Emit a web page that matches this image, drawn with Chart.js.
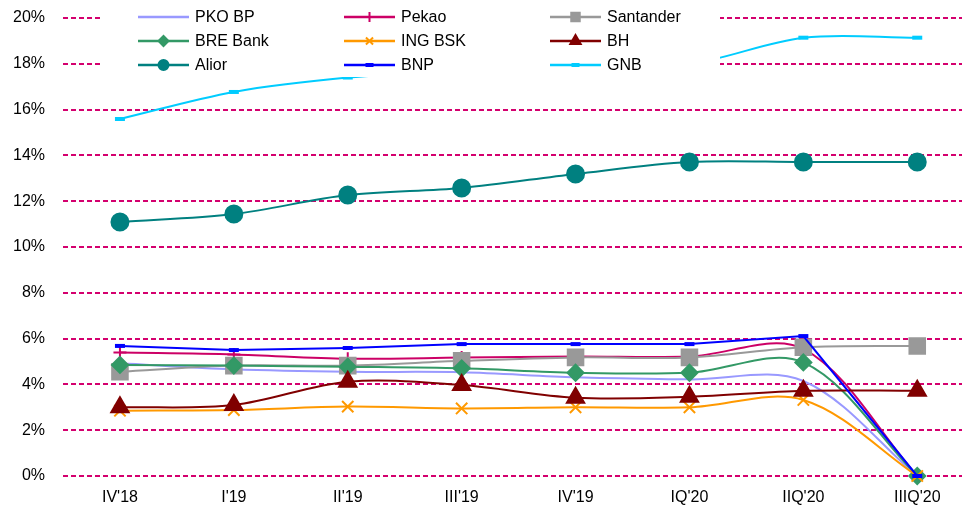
<!DOCTYPE html>
<html>
<head>
<meta charset="utf-8">
<script src="https://cdn.jsdelivr.net/npm/chart.js@4.4.0/dist/chart.umd.min.js"></script>
<style>
  html, body { margin: 0; padding: 0; background: #fff; overflow: hidden; }
</style>
</head>
<body>
<canvas id="myChart" width="962" height="508"></canvas>
<script>
// quarters on the x axis
var quarters = ["IV'18", "I'19", "II'19", "III'19", "IV'19", "IQ'20", "IIQ'20", "IIIQ'20"];

// values in %
var pkoBP     = [4.92, 4.66, 4.55, 4.53, 4.31, 4.22, 4.15, 0];
var pekao     = [5.39, 5.31, 5.12, 5.17, 5.22, 5.22, 5.55, 0];
var santander = [4.55, 4.82, 4.82, 5.03, 5.18, 5.18, 5.62, 5.68];
var breBank   = [4.85, 4.82, 4.77, 4.70, 4.51, 4.51, 4.96, 0];
var ingBSK    = [2.85, 2.88, 3.03, 2.95, 3.00, 3.00, 3.32, 0];
var bh        = [3.00, 3.10, 4.12, 3.97, 3.42, 3.46, 3.72, 3.72];
var alior     = [11.09, 11.44, 12.27, 12.58, 13.19, 13.71, 13.71, 13.71];
var bnp       = [5.68, 5.50, 5.59, 5.76, 5.76, 5.76, 6.11, 0];
var gnb       = [15.59, 16.77, 17.40, 17.70, 17.90, 18.00, 19.14, 19.14];

var tickFont = { family: "'Liberation Sans', Arial, sans-serif", size: 16, weight: "normal" };
var catWidth = 113.9; // px per quarter, the plot is cut off on the right in the original

// one line series, later series get drawn on top (like the original)
function series(label, values, color, style, radius, idx, extra) {
    var ds = {
        label: label,
        data: values.map(function(v, i) { return { x: i, y: v }; }),
        borderColor: color,
        backgroundColor: color,
        borderWidth: 2,
        pointStyle: style,
        pointRadius: radius,
        pointHoverRadius: radius,
        pointBackgroundColor: color,
        pointBorderColor: color,
        pointBorderWidth: 2,
        tension: 0.33,
        clip: false,
        order: 9 - idx
    };
    for (var k in extra) ds[k] = extra[k];
    return ds;
}

var datasets = [
    series("PKO BP", pkoBP, "#9999FF", false, 0, 0),
    series("Pekao", pekao, "#CC0066", "cross", 6.5, 1),
    series("Santander", santander, "#999999", "rect", 11, 2),
    series("BRE Bank", breBank, "#339966", "rectRot", 8, 3),
    series("ING BSK", ingBSK, "#FF9900", "crossRot", 8, 4),
    series("BH", bh, "#800000", "triangle", 10, 5),
    series("Alior", alior, "#008080", "circle", 8.5, 6),
    series("BNP", bnp, "#0000FF", "line", 5, 7, { pointBorderWidth: 4, tension: 0 }),
    series("GNB", gnb, "#00CCFF", "line", 5, 8, { pointBorderWidth: 4 })
];

// small marker size used inside the legend
var legendRadius = [0, 5, 6, 5, 5, 6, 5, 4, 4];

// legend sits in a white box on top of the plot
var legendBox = {
    id: 'legendBox',
    afterDraw: function(chart) {
        var c = chart.ctx;
        c.save();
        c.fillStyle = "#fff";
        c.fillRect(101, 0, 619, 77);
        chart.data.datasets.forEach(function(ds, i) {
            var col = i % 3, row = Math.floor(i / 3);
            var x = 138 + col * 206, y = 17 + row * 24;
            c.strokeStyle = ds.borderColor;
            c.fillStyle = ds.borderColor;
            c.lineWidth = 2.5;
            c.setLineDash([]);
            c.beginPath();
            c.moveTo(x, y);
            c.lineTo(x + 51, y);
            c.stroke();
            if (ds.pointStyle) {
                c.lineWidth = ds.pointBorderWidth;
                Chart.helpers.drawPoint(c, {
                    pointStyle: ds.pointStyle,
                    radius: legendRadius[i],
                    borderWidth: ds.pointBorderWidth,
                    rotation: 0
                }, x + 25.5, y);
            }
            c.fillStyle = "#000";
            c.font = "16px 'Liberation Sans', Arial, sans-serif";
            c.textBaseline = "middle";
            c.textAlign = "left";
            c.fillText(ds.label, x + 57, y + 1);
        });
        c.restore();
    }
};

var myChart = new Chart(document.getElementById('myChart'), {
    type: "line",
    data: { datasets: datasets },
    options: {
        responsive: false,
        animation: false,
        layout: { autoPadding: false, padding: { top: 18, right: 0, left: 0, bottom: 0 } },
        plugins: { legend: { display: false }, tooltip: { enabled: false } },
        scales: {
            x: {
                type: "linear",
                bounds: "data",
                grid: { display: true, drawOnChartArea: false, drawTicks: true, tickLength: 12, tickColor: "rgba(0,0,0,0)" },
                border: { display: false },
                ticks: {
                    font: tickFont, color: "#000", padding: 0, autoSkip: false, maxRotation: 0,
                    callback: function(v) { return quarters[v]; }
                },
                afterDataLimits: function(s) {
                    s.min = -0.5;
                    s.max = -0.5 + s.width / catWidth;
                },
                afterBuildTicks: function(s) {
                    s.ticks = quarters.map(function(q, i) { return { value: i }; });
                },
                afterFit: function(s) {
                    s.height = 32;
                    s.paddingLeft = 0;
                    s.paddingRight = 0;
                }
            },
            y: {
                min: 0,
                max: 20,
                ticks: {
                    stepSize: 2,
                    font: tickFont,
                    color: "#000",
                    padding: 0,
                    callback: function(v) { return v + "%"; }
                },
                grid: { color: "#D4006E", lineWidth: 2, drawTicks: true, tickLength: 18, tickColor: "rgba(0,0,0,0)" },
                border: { display: false, dash: [5, 3] },
                afterFit: function(s) { s.width = 63; }
            }
        }
    },
    plugins: [legendBox]
});
</script>
</body>
</html>
